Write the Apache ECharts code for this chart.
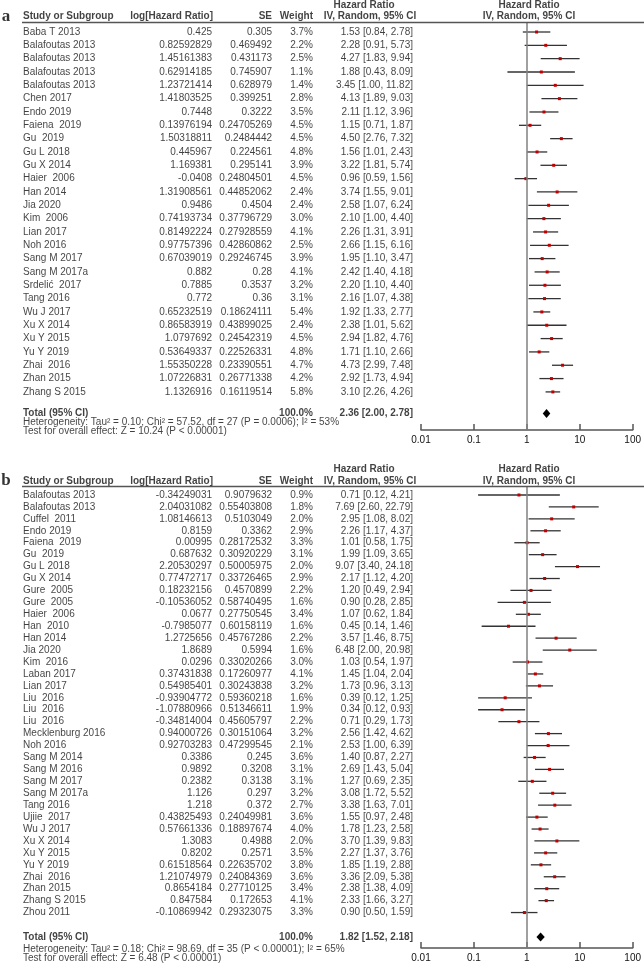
<!DOCTYPE html>
<html><head><meta charset="utf-8">
<script src="https://cdn.jsdelivr.net/npm/echarts@6/dist/echarts.min.js"></script>
<style>html,body{margin:0;padding:0;background:#fff}#c{width:644px;height:967px}</style>
</head><body><div id="c"></div>
<script>
// ---------- Panel a data ----------
const studiesA = ["Baba T 2013","Balafoutas 2013","Balafoutas 2013","Balafoutas 2013","Balafoutas 2013","Chen 2017","Endo 2019","Faiena  2019","Gu  2019","Gu L 2018","Gu X 2014","Haier  2006","Han 2014","Jia 2020","Kim  2006","Lian 2017","Noh 2016","Sang M 2017","Sang M 2017a","Srdelić  2017","Tang 2016","Wu J 2017","Xu X 2014","Xu Y 2015","Yu Y 2019","Zhai  2016","Zhan 2015","Zhang S 2015"];
const logHrA = ["0.425","0.82592829","1.45161383","0.62914185","1.23721414","1.41803525","0.7448","0.13976194","1.50318811","0.445967","1.169381","-0.0408","1.31908561","0.9486","0.74193734","0.81492224","0.97757396","0.67039019","0.882","0.7885","0.772","0.65232519","0.86583919","1.0797692","0.53649337","1.55350228","1.07226831","1.1326916"];
const seA = ["0.305","0.469492","0.431173","0.745907","0.628979","0.399251","0.3222","0.24705269","0.2484442","0.224561","0.295141","0.24804501","0.44852062","0.4504","0.37796729","0.27928559","0.42860862","0.29246745","0.28","0.3537","0.36","0.18624111","0.43899025","0.24542319","0.22526331","0.23390551","0.26771338","0.16119514"];
const weightA = [3.7,2.2,2.5,1.1,1.4,2.8,3.5,4.5,4.5,4.8,3.9,4.5,2.4,2.4,3.0,4.1,2.5,3.9,4.1,3.2,3.1,5.4,2.4,4.5,4.8,4.7,4.2,5.8];
const hrA = [1.53,2.28,4.27,1.88,3.45,4.13,2.11,1.15,4.50,1.56,3.22,0.96,3.74,2.58,2.10,2.26,2.66,1.95,2.42,2.20,2.16,1.92,2.38,2.94,1.71,4.73,2.92,3.10];
const loA = [0.84,0.91,1.83,0.43,1.00,1.89,1.12,0.71,2.76,1.01,1.81,0.59,1.55,1.07,1.00,1.31,1.15,1.10,1.40,1.10,1.07,1.33,1.01,1.82,1.10,2.99,1.73,2.26];
const hiA = [2.78,5.73,9.94,8.09,11.82,9.03,3.96,1.87,7.32,2.43,5.74,1.56,9.01,6.24,4.40,3.91,6.16,3.47,4.18,4.40,4.38,2.77,5.62,4.76,2.66,7.48,4.94,4.26];
const totalA = [2.36, 2.00, 2.78];
const hetA = "Heterogeneity: Tau² = 0.10; Chi² = 57.52, df = 27 (P = 0.0006); I² = 53%";
const testA = "Test for overall effect: Z = 10.24 (P < 0.00001)";

// ---------- Panel b data ----------
const studiesB = ["Balafoutas 2013","Balafoutas 2013","Cuffel  2011","Endo 2019","Faiena  2019","Gu  2019","Gu L 2018","Gu X 2014","Gure  2005","Gure  2005","Haier  2006","Han  2010","Han 2014","Jia 2020","Kim  2016","Laban 2017","Lian 2017","Liu  2016","Liu  2016","Liu  2016","Mecklenburg 2016","Noh 2016","Sang M 2014","Sang M 2016","Sang M 2017","Sang M 2017a","Tang 2016","Ujiie  2017","Wu J 2017","Xu X 2014","Xu Y 2015","Yu Y 2019","Zhai  2016","Zhan 2015","Zhang S 2015","Zhou 2011"];
const logHrB = ["-0.34249031","2.04031082","1.08146613","0.8159","0.00995","0.687632","2.20530297","0.77472717","0.18232156","-0.10536052","0.0677","-0.7985077","1.2725656","1.8689","0.0296","0.37431838","0.54985401","-0.93904772","-1.07880966","-0.34814004","0.94000726","0.92703283","0.3386","0.9892","0.2382","1.126","1.218","0.43825493","0.57661336","1.3083","0.8202","0.61518564","1.21074979","0.8654184","0.847584","-0.10869942"];
const seB = ["0.9079632","0.55403808","0.5103049","0.3362","0.28172532","0.30920229","0.50005975","0.33726465","0.4570899","0.58740495","0.27750545","0.60158119","0.45767286","0.5994","0.33020266","0.17260977","0.30243838","0.59360218","0.51346611","0.45605797","0.30151064","0.47299545","0.245","0.3208","0.3138","0.297","0.372","0.24049981","0.18897674","0.4988","0.2571","0.22635702","0.24084369","0.27710125","0.172653","0.29323075"];
const weightB = [0.9,1.8,2.0,2.9,3.3,3.1,2.0,2.9,2.2,1.6,3.4,1.6,2.2,1.6,3.0,4.1,3.2,1.6,1.9,2.2,3.2,2.1,3.6,3.1,3.1,3.2,2.7,3.6,4.0,2.0,3.5,3.8,3.6,3.4,4.1,3.3];
const hrB = [0.71,7.69,2.95,2.26,1.01,1.99,9.07,2.17,1.20,0.90,1.07,0.45,3.57,6.48,1.03,1.45,1.73,0.39,0.34,0.71,2.56,2.53,1.40,2.69,1.27,3.08,3.38,1.55,1.78,3.70,2.27,1.85,3.36,2.38,2.33,0.90];
const loB = [0.12,2.60,1.08,1.17,0.58,1.09,3.40,1.12,0.49,0.28,0.62,0.14,1.46,2.00,0.54,1.04,0.96,0.12,0.12,0.29,1.42,1.00,0.87,1.43,0.69,1.72,1.63,0.97,1.23,1.39,1.37,1.19,2.09,1.38,1.66,0.50];
const hiB = [4.21,22.79,8.02,4.37,1.75,3.65,24.18,4.20,2.94,2.85,1.84,1.46,8.75,20.98,1.97,2.04,3.13,1.25,0.93,1.73,4.62,6.39,2.27,5.04,2.35,5.52,7.01,2.48,2.58,9.83,3.76,2.88,5.38,4.09,3.27,1.59];
const totalB = [1.82, 1.52, 2.18];
const hetB = "Heterogeneity: Tau² = 0.18; Chi² = 98.69, df = 35 (P < 0.00001); I² = 65%";
const testB = "Test for overall effect: Z = 6.48 (P < 0.00001)";

const tickLabels = ["0.01","0.1","1","10","100"];
const nullEffect = 1;

// ---------- layout (pixels) ----------
const FONT = "'Liberation Sans', Arial, sans-serif";
const COL = {name: 23, logHr: 212, se: 272, weight: 313, hr: 413, hrHead1: 364, hrHead2: 370, plotHead: 529};
const PANELS = [
  {letter:'a', names:studiesA, logHr:logHrA, se:seA, w:weightA, hr:hrA, lo:loA, hi:hiA, total:totalA, het:hetA, test:testA,
   rule:22.5, first:32, pitch:13.33, axis:430, head1:5, head2:16.5, totalY:413.5, hetY:422, testY:431.5},
  {letter:'b', names:studiesB, logHr:logHrB, se:seB, w:weightB, hr:hrB, lo:loB, hi:hiB, total:totalB, het:hetB, test:testB,
   rule:486, first:495, pitch:11.93, axis:948, head1:469, head2:481, totalY:937, hetY:949, testY:958}
];

const grids = [], xAxes = [], yAxes = [], series = [];

function txt(gi, items, position, bold, extra) {
  series.push(Object.assign({
    type: 'scatter', xAxisIndex: gi, yAxisIndex: gi, symbolSize: 0, silent: true, clip: false,
    data: items,
    label: {show: true, position: position, distance: 0, formatter: p => p.value[2],
      fontFamily: FONT, fontSize: 10, color: '#111', fontWeight: bold ? 'bold' : 'normal'}
  }, extra || {}));
}

PANELS.forEach((P, k) => {
  const toV = y => (y - P.first) / P.pitch;
  const yMin = toV(P.rule), yMax = toV(P.axis);
  const plotIdx = k * 2, tabIdx = k * 2 + 1;
  // plot grid
  grids.push({left: 421, right: 9, top: P.rule, height: P.axis - P.rule});
  xAxes.push({gridIndex: plotIdx, type: 'log', logBase: 10, min: 0.01, max: 100, position: 'bottom',
    axisLine: {onZero: false, lineStyle: {color: '#555', width: 1.5}},
    axisTick: {inside: true, length: 6, lineStyle: {color: '#555', width: 1.5}},
    splitLine: {show: false}, minorTick: {show: false},
    axisLabel: {margin: 5, color: '#111', fontSize: 10, fontFamily: FONT,
      formatter: v => tickLabels[Math.round(Math.log10(v)) + 2]}});
  yAxes.push({gridIndex: plotIdx, type: 'value', inverse: true, min: yMin, max: yMax, show: false});
  // table grid
  grids.push({left: 0, right: 0, top: P.rule, height: P.axis - P.rule});
  xAxes.push({gridIndex: tabIdx, type: 'value', min: 0, max: 644, show: false, axisLine: {onZero: false}});
  yAxes.push({gridIndex: tabIdx, type: 'value', inverse: true, min: yMin, max: yMax, show: false, axisLine: {onZero: false}});

  // reference line at HR = 1
  series.push({type: 'scatter', xAxisIndex: plotIdx, yAxisIndex: plotIdx, symbolSize: 0, silent: true,
    data: [[nullEffect, 0]],
    markLine: {silent: true, symbol: ['none', 'none'], label: {show: false}, animation: false,
      lineStyle: {color: '#808080', width: 1.5, type: 'solid'},
      data: [{xAxis: nullEffect}]}, z: 1});

  // CIs and point estimates
  series.push({type: 'custom', xAxisIndex: plotIdx, yAxisIndex: plotIdx, silent: true, clip: false,
    data: P.names.map((_, i) => [P.hr[i], i, P.lo[i], P.hi[i]]),
    encode: {x: [0, 2, 3], y: 1},
    renderItem: (params, api) => {
      const i = api.value(1);
      const a = api.coord([api.value(2), i]), b = api.coord([api.value(3), i]), c = api.coord([api.value(0), i]);
      return {type: 'group', children: [
        {type: 'line', shape: {x1: a[0], y1: a[1], x2: b[0], y2: b[1]}, style: {stroke: '#333', lineWidth: 1.3}},
        {type: 'rect', shape: {x: c[0] - 1.5, y: c[1] - 1.5, width: 3, height: 3}, style: {fill: '#c00000'}}
      ]};
    }, z: 3});

  // Total diamond
  const tv = toV(P.totalY);
  series.push({type: 'custom', xAxisIndex: plotIdx, yAxisIndex: plotIdx, silent: true, clip: false,
    data: [[P.total[0], tv, P.total[1], P.total[2]]],
    encode: {x: [0, 2, 3], y: 1},
    renderItem: (params, api) => {
      const v = api.value(1);
      const l = api.coord([api.value(2), v]), r = api.coord([api.value(3), v]), c = api.coord([api.value(0), v]);
      return {type: 'polygon', shape: {points: [[l[0], l[1]], [c[0], c[1] - 4.5], [r[0], r[1]], [c[0], c[1] + 4.5]]},
        style: {fill: '#000'}};
    }, z: 3});

  // table columns
  const rowsIdx = P.names.map((_, i) => i);
  txt(tabIdx, rowsIdx.map(i => [COL.name, i, P.names[i]]), 'right', false, {
    markLine: {silent: true, symbol: ['none', 'none'], label: {show: false}, animation: false,
      lineStyle: {color: '#555', width: 1.3, type: 'solid'},
      data: [[{coord: [22, yMin]}, {coord: [644, yMin]}]]}});
  txt(tabIdx, rowsIdx.map(i => [COL.logHr, i, P.logHr[i]]), 'left', false);
  txt(tabIdx, rowsIdx.map(i => [COL.se, i, P.se[i]]), 'left', false);
  txt(tabIdx, rowsIdx.map(i => [COL.weight, i, P.w[i].toFixed(1) + '%']), 'left', false);
  txt(tabIdx, rowsIdx.map(i => [COL.hr, i, P.hr[i].toFixed(2) + ' [' + P.lo[i].toFixed(2) + ', ' + P.hi[i].toFixed(2) + ']']), 'left', false);

  // headers
  const h1 = toV(P.head1), h2 = toV(P.head2);
  txt(tabIdx, [[COL.name, h2, 'Study or Subgroup']], 'right', true);
  txt(tabIdx, [[COL.logHr + 1, h2, 'log[Hazard Ratio]'], [COL.se, h2, 'SE'], [COL.weight, h2, 'Weight']], 'left', true);
  txt(tabIdx, [[COL.hrHead1, h1, 'Hazard Ratio'], [COL.hrHead2, h2, 'IV, Random, 95% CI'],
               [COL.plotHead, h1, 'Hazard Ratio'], [COL.plotHead, h2, 'IV, Random, 95% CI']], 'inside', true);
  // panel letter
  series.push({type: 'scatter', xAxisIndex: tabIdx, yAxisIndex: tabIdx, symbolSize: 0, silent: true, clip: false,
    data: [[6, h2, P.letter]],
    label: {show: true, position: 'inside', formatter: p => p.value[2], fontFamily: "'Liberation Serif', 'DejaVu Serif', serif",
      fontSize: 17, fontWeight: 'bold', color: '#000'}});

  // footer
  txt(tabIdx, [[COL.name, tv, 'Total (95% CI)']], 'right', true);
  txt(tabIdx, [[COL.weight, tv, '100.0%'],
               [COL.hr, tv, P.total[0].toFixed(2) + ' [' + P.total[1].toFixed(2) + ', ' + P.total[2].toFixed(2) + ']']], 'left', true);
  txt(tabIdx, [[COL.name, toV(P.hetY), P.het], [COL.name, toV(P.testY), P.test]], 'right', false);
});

const chart = echarts.init(document.getElementById('c'), null, {renderer: 'canvas'});
chart.setOption({animation: false, backgroundColor: '#fff', grid: grids, xAxis: xAxes, yAxis: yAxes, series: series});
</script></body></html>
